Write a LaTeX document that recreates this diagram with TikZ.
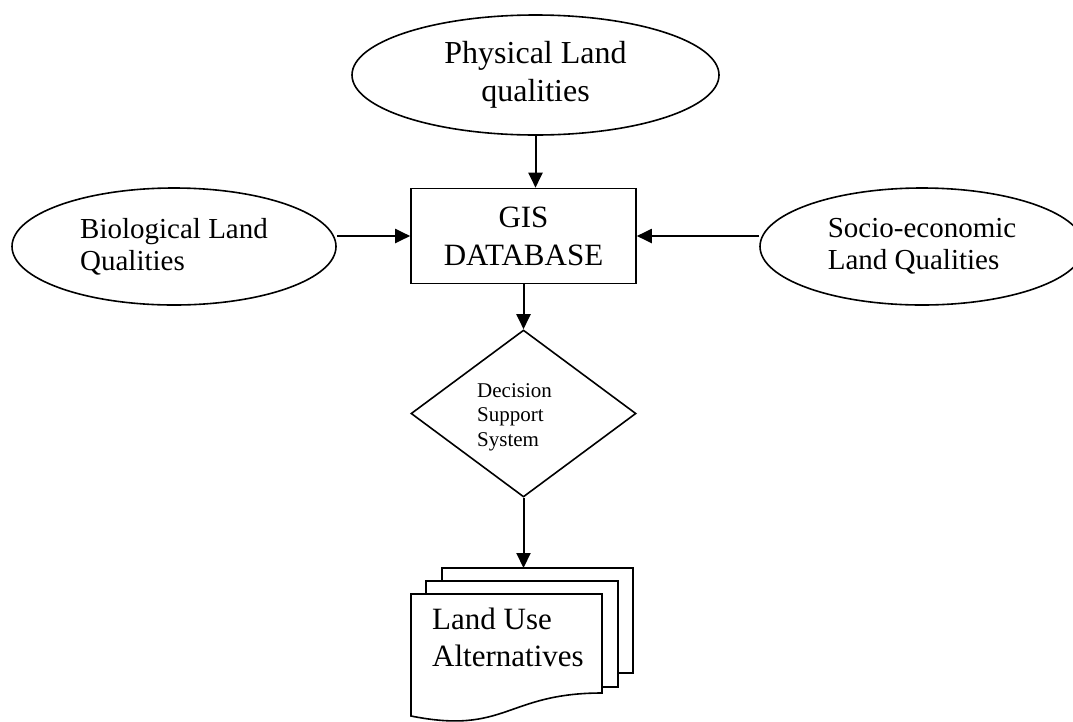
\documentclass[tikz,border=0pt]{standalone}
\usepackage{fontspec}
\setmainfont{Liberation Serif}
\usetikzlibrary{shapes.geometric,arrows.meta}
\begin{document}
\begin{tikzpicture}[x=1pt,y=-1pt,
  shapeline/.style={draw, line width=1.6pt},
  quality/.style={shapeline, ellipse, inner sep=0pt, align=left,
    minimum width=324pt, minimum height=117pt,
    font=\fontsize{29}{32}\selectfont},
  flow/.style={line width=2pt, -{Triangle[length=15pt,width=14pt]}},
  sheet/.style={shapeline, fill=white, line join=miter}]
\useasboundingbox (0,0) rectangle (1073,721);

% input land qualities
\node[quality, minimum width=367pt, minimum height=120pt, align=center,
      font=\fontsize{32}{38}\selectfont] (phys) at (535.5,75) {Physical Land\\qualities};
\node[quality] (bio) at (174,246.5) {Biological Land\\Qualities};
\node[quality] (socio) at (922,246.5) {Socio-economic\\Land Qualities};

% central database
\node[shapeline, rectangle, minimum width=225pt, minimum height=95pt, inner sep=0pt,
      align=center, font=\fontsize{31}{38}\selectfont] (gis) at (523.5,236) {GIS\\DATABASE};

% decision step
\node[shapeline, diamond, minimum width=225pt, minimum height=167pt, inner sep=0pt] (dss) at (523.5,413.5) {};
\node[align=left, inner sep=0pt, anchor=north west,
      font=\fontsize{21}{24.5}\selectfont] (dsstext) at (477,383) {Decision\\Support\\System};

% stacked output documents
\draw[sheet] (442,568) rectangle (633,673);
\draw[sheet] (426,581) rectangle (618,687);
\draw[sheet] (411,594) -- (602,594) -- (602,693)
  .. controls (506,693) and (506,735) .. (411,716) -- cycle;
\coordinate (docs) at (523.5,568);
\node[align=left, inner sep=0pt, anchor=north west,
      font=\fontsize{31}{37}\selectfont] (landuse) at (432,608) {Land Use\\Alternatives};

% connectors
\draw[flow] (phys.south) -- (phys.south |- gis.north);
\draw[flow] (bio.east |- gis.west) -- (gis.west);
\draw[flow] (socio.west |- gis.east) -- (gis.east);
\draw[flow] (gis.south) -- (dss.north);
\draw[flow] (dss.south) -- (docs);
\end{tikzpicture}
\end{document}
